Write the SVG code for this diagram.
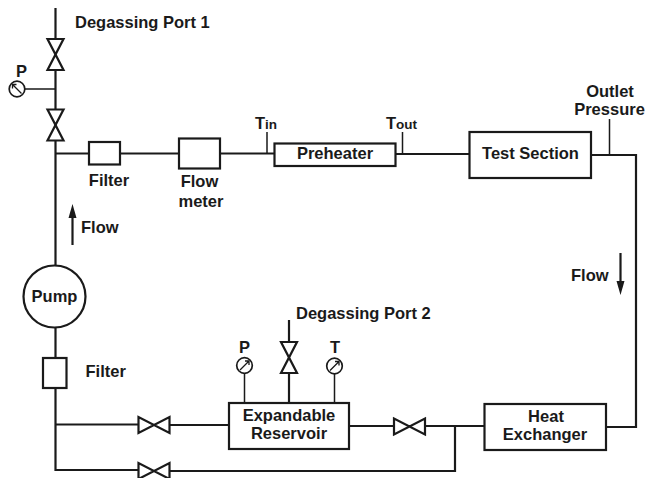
<svg xmlns="http://www.w3.org/2000/svg" width="645" height="478" viewBox="0 0 645 478">
<style>
text{font-family:"Liberation Sans",Arial,sans-serif;font-weight:bold;font-size:16.5px;fill:#1a1a1a}
.m{text-anchor:middle}
.b{fill:#fff;stroke:#1a1a1a;stroke-width:2.2}
.l{fill:none;stroke:#1a1a1a;stroke-width:2.2}
.t{fill:none;stroke:#1a1a1a;stroke-width:1.5}
.v{fill:#fff;stroke:#1a1a1a;stroke-width:2.2;stroke-linejoin:miter}
</style>
<defs>
<g id="gauge"><circle r="7.8" fill="#fff" stroke="#1a1a1a" stroke-width="1.7"/><path d="M-4.500,4.500L4.500,-4.500M0.500,-4.500L4.500,-4.500L4.500,-0.500" fill="none" stroke="#1a1a1a" stroke-width="1.3"/></g>
<path id="vv" d="M-8,-15.500H8L-8,15.500H8Z"/>
<path id="hv" d="M-15.500,-8V8L15.500,-8V8Z"/>
</defs>
<g id="connectors">
<path class="l" d="M55.500,8V358M55.500,153.500H89M120,153.500H179M220,153.500H274M395,154H469M591,155H636V427H606M55.500,388V470H139M55.500,424.500H139M169,425H229M349,426H484M169,471H455V426"/>
<path class="l" d="M289,320V403"/>
<path class="t" d="M25,89H55.500M267,132V154M402.500,132V154M609.500,119V155M244.500,373V403M334.500,374V403"/>
<path d="M72.500,245V217" class="l"/><path d="M72.500,204L68.500,218H76.500Z" fill="#1a1a1a"/>
<path d="M620.500,253V283" class="l"/><path d="M620.500,295L616.500,281H624.500Z" fill="#1a1a1a"/>
</g>
<g id="valve-port1"><use href="#vv" x="55.500" y="54.500" class="v"/></g>
<g id="valve-lower"><use href="#vv" x="55.500" y="125" class="v"/></g>
<g id="gauge-p1"><use href="#gauge" x="17" y="89" transform="rotate(-90 17 89)"/><text class="m" x="21.500" y="77">P</text></g>
<g id="port1-label"><text x="75" y="28">Degassing Port 1</text></g>
<g id="filter-top"><rect class="b" x="89" y="142" width="31" height="22.500"/><text class="m" x="109" y="186">Filter</text></g>
<g id="flowmeter"><rect class="b" x="179" y="138.500" width="41" height="30"/><text class="m" x="199.500" y="187">Flow</text><text class="m" x="201" y="207">meter</text></g>
<g id="flow-up"><text x="81" y="233">Flow</text></g>
<g id="tin"><text x="255" y="129">T<tspan font-size="13.500">in</tspan></text></g>
<g id="preheater"><rect class="b" x="274.500" y="143.500" width="121" height="22.500"/><text class="m" x="335" y="159">Preheater</text></g>
<g id="tout"><text x="386" y="129">T<tspan font-size="13.500">out</tspan></text></g>
<g id="test-section"><rect class="b" x="469.500" y="132" width="121.500" height="46"/><text class="m" x="530.500" y="159">Test Section</text></g>
<g id="outlet"><text class="m" x="610" y="97">Outlet</text><text class="m" x="609.500" y="115">Pressure</text></g>
<g id="flow-down"><text x="571" y="281">Flow</text></g>
<g id="pump"><circle class="b" cx="54.500" cy="296.500" r="31"/><text class="m" x="54.500" y="302">Pump</text></g>
<g id="filter-low"><rect class="b" x="43" y="358" width="23.500" height="30"/><text x="85.500" y="377">Filter</text></g>
<g id="valve-1"><use href="#hv" x="154" y="425" class="v"/></g>
<g id="valve-2"><use href="#hv" x="154" y="471" class="v"/></g>
<g id="valve-3"><use href="#hv" x="409.500" y="426.500" class="v"/></g>
<g id="port2-label"><text x="296" y="319">Degassing Port 2</text></g>
<g id="valve-port2"><use href="#vv" x="289" y="357.500" class="v"/></g>
<g id="gauge-p2"><use href="#gauge" x="244.500" y="365.500"/><text class="m" x="244.500" y="353">P</text></g>
<g id="gauge-t"><use href="#gauge" x="334.500" y="366"/><text class="m" x="335" y="353">T</text></g>
<g id="reservoir"><rect class="b" x="229" y="403" width="120" height="46"/><text class="m" x="289" y="421">Expandable</text><text class="m" x="289" y="439">Reservoir</text></g>
<g id="heat-exchanger"><rect class="b" x="484.500" y="404" width="121.500" height="46"/><text class="m" x="546" y="422">Heat</text><text class="m" x="545" y="440">Exchanger</text></g>
</svg>
